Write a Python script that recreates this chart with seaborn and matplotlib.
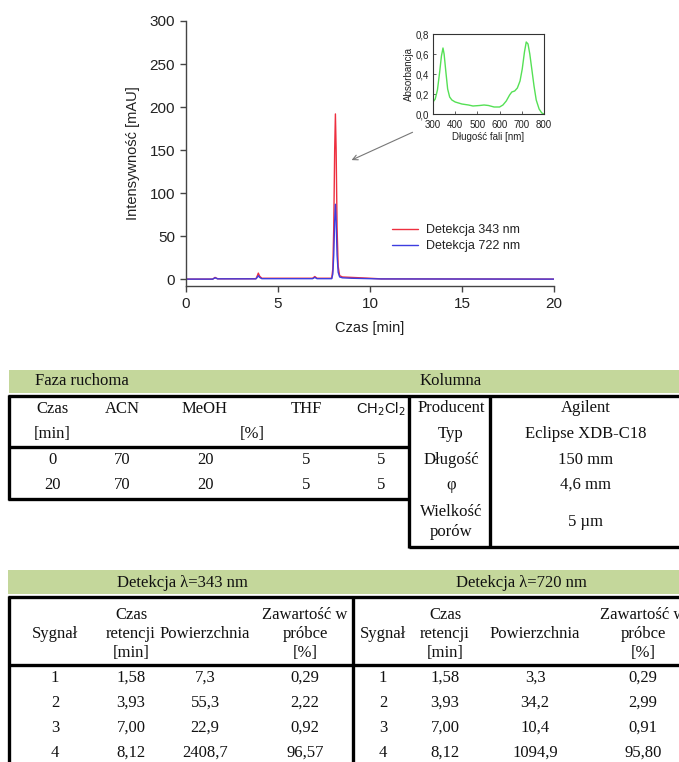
import numpy as np
import pandas as pd
import matplotlib
matplotlib.use("Agg")
import matplotlib.pyplot as plt
import seaborn as sns
from matplotlib.lines import Line2D
from matplotlib.patches import Rectangle
from matplotlib.ticker import FuncFormatter

# ---------------- data ----------------
time_343 = [0.0, 1.45, 1.58, 1.72, 3.80, 3.87, 3.93, 4.00, 4.12, 6.88, 7.00, 7.12, 7.92,
            7.98, 8.03, 8.08, 8.12, 8.16, 8.21, 8.27, 8.35, 8.50, 9.00, 10.0, 10.6, 20.0]
signal_343 = [0.0, 0.0, 2.0, 0.4, 0.5, 3.5, 7.0, 3.5, 1.0, 1.0, 3.0, 1.0, 1.0,
              12.0, 60.0, 150.0, 192.0, 150.0, 60.0, 15.0, 4.0, 2.5, 2.0, 1.0, 0.3, 0.0]
time_722 = [0.0, 1.45, 1.58, 1.72, 3.80, 3.87, 3.93, 4.00, 4.12, 6.88, 7.00, 7.12, 7.92,
            7.98, 8.03, 8.08, 8.12, 8.16, 8.21, 8.27, 8.35, 8.50, 9.00, 10.0, 10.6, 20.0]
signal_722 = [0.0, 0.0, 1.5, 0.3, 0.3, 2.0, 4.0, 2.0, 0.5, 0.5, 2.0, 0.5, 0.5,
              6.0, 28.0, 68.0, 87.0, 68.0, 28.0, 8.0, 2.5, 1.5, 1.0, 0.5, 0.2, 0.0]
series_labels = ["Detekcja 343 nm", "Detekcja 722 nm"]

wavelength = [300, 310, 320, 330, 338, 345, 350, 358, 366, 375, 385, 400, 430, 460, 480,
              510, 530, 550, 575, 600, 615, 630, 645, 655, 668, 680, 692, 702, 712, 720,
              728, 736, 745, 755, 765, 778, 790, 800]
absorbance = [0.12, 0.15, 0.24, 0.42, 0.58, 0.66, 0.60, 0.42, 0.25, 0.17, 0.14, 0.12, 0.10,
              0.09, 0.08, 0.085, 0.09, 0.085, 0.07, 0.07, 0.09, 0.13, 0.19, 0.22, 0.23,
              0.26, 0.33, 0.45, 0.62, 0.72, 0.70, 0.60, 0.45, 0.28, 0.14, 0.05, 0.01, 0.0]

# Table 1: mobile phase + column
mobile_header = ["Czas", "ACN", "MeOH", "THF", "CH$_2$Cl$_2$"]
mobile_unit = ["[min]", "[%]"]
mobile_rows = [["0", "70", "20", "5", "5"],
               ["20", "70", "20", "5", "5"]]
column_params = ["Producent", "Typ", "Długość", "φ", "Wielkość\nporów"]
column_values = ["Agilent", "Eclipse XDB-C18", "150 mm", "4,6 mm", "5 µm"]
table1_titles = ["Faza ruchoma", "Kolumna"]

# Table 2: detection results
table2_titles = ["Detekcja λ=343 nm", "Detekcja λ=720 nm"]
signal_no = ["1", "2", "3", "4"]
retention = ["1,58", "3,93", "7,00", "8,12"]
area_343 = ["7,3", "55,3", "22,9", "2408,7"]
content_343 = ["0,29", "2,22", "0,92", "96,57"]
area_720 = ["3,3", "34,2", "10,4", "1094,9"]
content_720 = ["0,29", "2,99", "0,91", "95,80"]

# ---------------- figure ----------------
sns.set_theme(style="ticks")
plt.rcParams["font.family"] = ["Liberation Sans", "DejaVu Sans"]

W, H = 679, 762
fig = plt.figure(figsize=(W / 100, H / 100), dpi=100)
fig.patch.set_facecolor("white")


def fx(px):
    return px / W


def fy(py):
    return 1 - py / H


RED = "#ee2f3f"
BLUE = "#3d3de0"

ax = fig.add_axes([fx(186), fy(286), fx(554) - fx(186), fy(21) - fy(286)])
df = pd.concat([
    pd.DataFrame({"t": time_343, "v": signal_343, "s": series_labels[0]}),
    pd.DataFrame({"t": time_722, "v": signal_722, "s": series_labels[1]}),
])
sns.lineplot(data=df, x="t", y="v", hue="s", hue_order=series_labels,
             palette=[RED, BLUE], ax=ax, lw=1.0, estimator=None)
ax.set_xlim(0, 20)
ax.set_ylim(-8, 300)
ax.set_xticks([0, 5, 10, 15, 20])
ax.set_yticks([0, 50, 100, 150, 200, 250, 300])
for sp in ["top", "right"]:
    ax.spines[sp].set_visible(False)
for sp in ["left", "bottom"]:
    ax.spines[sp].set_color("#444444")
    ax.spines[sp].set_linewidth(1.0)
ax.tick_params(axis="both", labelsize=11, length=4, width=1.0, color="#444444",
               labelcolor="#222222", pad=4)
ax.set_xlabel("Czas [min]", fontsize=10.5, color="#222222", labelpad=7)
ax.set_ylabel("Intensywność [mAU]", fontsize=10.5, color="#222222", labelpad=7)
ax.set_facecolor("none")
leg = ax.legend(loc="upper left", bbox_to_anchor=(0.56, 0.234), frameon=False,
                fontsize=9, borderpad=0, borderaxespad=0, handlelength=2.1,
                handletextpad=0.6, labelspacing=0.35)
for t in leg.get_texts():
    t.set_color("#222222")

ax.annotate("", xy=(8.86, 137), xytext=(12.45, 172),
            arrowprops=dict(arrowstyle="->", color="#777777", lw=0.8,
                            mutation_scale=9))

# inset
axi = fig.add_axes([fx(433), fy(114), fx(544) - fx(433), fy(34) - fy(114)])
sns.lineplot(x=wavelength, y=absorbance, ax=axi, color="#55e055", lw=1.0)
axi.set_xlim(300, 800)
axi.set_ylim(0, 0.8)
axi.set_xticks([300, 400, 500, 600, 700, 800])
axi.set_yticks([0, 0.2, 0.4, 0.6, 0.8])
axi.yaxis.set_major_formatter(FuncFormatter(lambda v, p: f"{v:.1f}".replace(".", ",")))
axi.tick_params(axis="both", labelsize=7, length=2, width=0.6, direction="in",
                labelcolor="#222222", color="#444444")
axi.tick_params(axis="x", pad=4)
axi.tick_params(axis="y", pad=3)
for sp in axi.spines.values():
    sp.set_color("#333333")
    sp.set_linewidth(0.8)
axi.set_xlabel("Długość fali [nm]", fontsize=7, labelpad=2, color="#222222")
axi.set_ylabel("Absorbancja", fontsize=7, labelpad=1, color="#222222")

# ---------------- tables ----------------
SERIF = ["Liberation Serif", "DejaVu Serif"]
FS = 12
GREEN = "#c4d79b"
LW = 2.4


def band(y0, y1, x0=9, x1=679):
    fig.add_artist(Rectangle((fx(x0), fy(y1)), fx(x1) - fx(x0), fy(y0) - fy(y1),
                             transform=fig.transFigure, color=GREEN, lw=0))


def hline(y, x0, x1, lw=LW):
    fig.add_artist(Line2D([fx(x0), fx(x1)], [fy(y), fy(y)], transform=fig.transFigure,
                          color="black", lw=lw, solid_capstyle="butt"))


def vline(x, y0, y1, lw=LW):
    fig.add_artist(Line2D([fx(x), fx(x)], [fy(y0), fy(y1)], transform=fig.transFigure,
                          color="black", lw=lw, solid_capstyle="butt"))


def txt(x, y, s, family=SERIF, size=FS, **kw):
    fig.text(fx(x), fy(y), s, ha="center", va="center", family=family, size=size,
             color="#111111", **kw)


# Table 1
band(370, 393)
txt(82, 381, table1_titles[0])
txt(451, 381, table1_titles[1])
hline(396, 8, 679)
hline(447, 8, 409)
hline(499, 8, 409)
hline(547, 409, 679)
vline(9, 395, 500)
vline(409, 395, 548)
vline(490, 395, 548)

t1_cols = [52, 122, 205, 306, 381]
for x, s in zip(t1_cols, mobile_header):
    if "$" in s:
        txt(x, 409, s, family=["Liberation Sans", "DejaVu Sans"], size=10.5)
    else:
        txt(x, 409, s)
txt(t1_cols[0], 434, mobile_unit[0])
txt(252, 434, mobile_unit[1])
for row, y in zip(mobile_rows, [460, 485]):
    for x, s in zip(t1_cols, row):
        txt(x, y, s)
for s, v, y in zip(column_params, column_values, [408, 434, 460, 485, 522]):
    txt(451, y, s, linespacing=1.25)
    txt(586, y, v)

# Table 2
band(570, 594, x0=8)
txt(182, 583, table2_titles[0])
txt(521, 583, table2_titles[1])
hline(597, 8, 679)
hline(665, 8, 679)
vline(9, 596, 762)
vline(353, 596, 762)

for off_cols, areas, contents in [([55, 131, 205, 305], area_343, content_343),
                                  ([383, 445, 535, 643], area_720, content_720)]:
    c0, c1, c2, c3 = off_cols
    txt(c0, 634, "Sygnał")
    txt(c1, 615, "Czas")
    txt(c1, 634, "retencji")
    txt(c1, 653, "[min]")
    txt(c2, 634, "Powierzchnia")
    txt(c3, 615, "Zawartość w")
    txt(c3, 634, "próbce")
    txt(c3, 653, "[%]")
    for i, y in enumerate([678, 703, 728, 753]):
        txt(c0, y, signal_no[i])
        txt(c1, y, retention[i])
        txt(c2, y, areas[i])
        txt(c3, y, contents[i])

fig.savefig("out.png", dpi=100, facecolor="white")
